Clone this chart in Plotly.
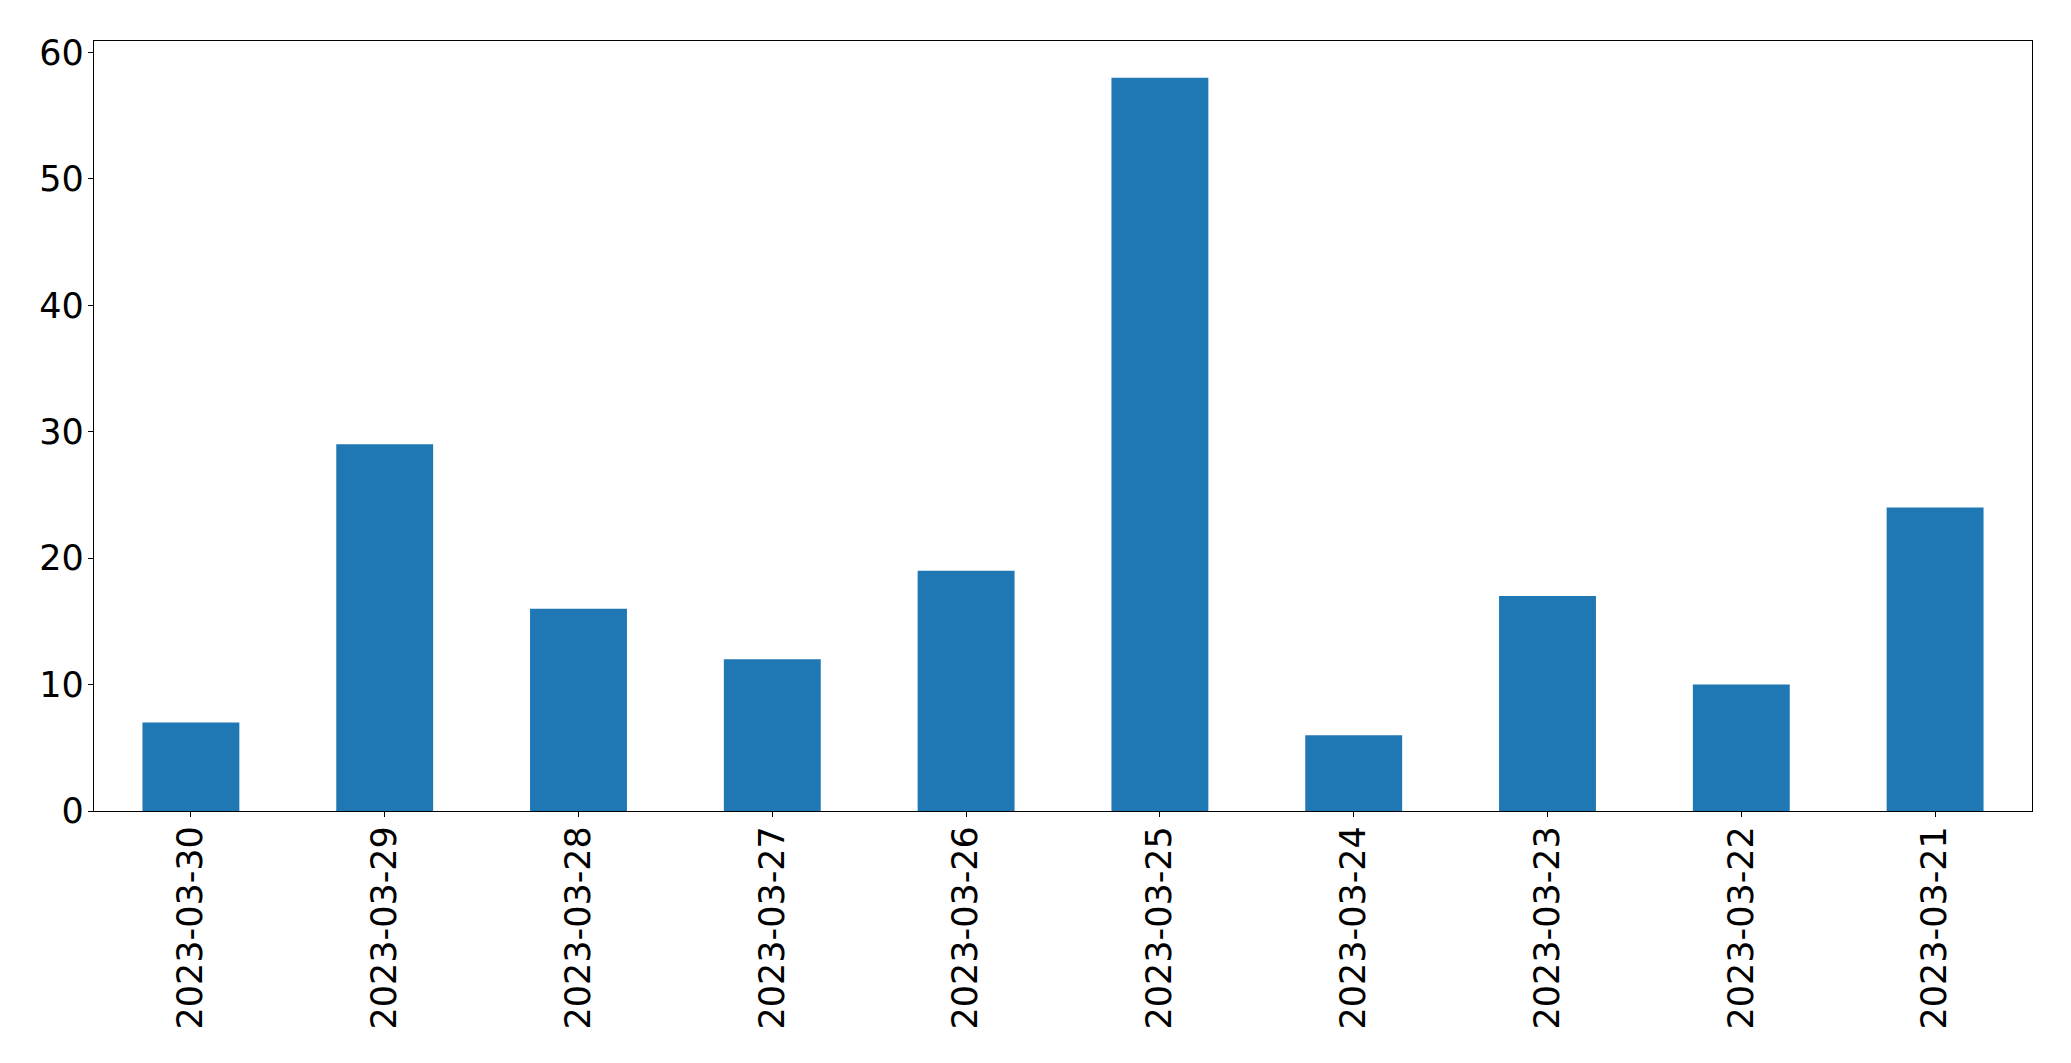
import plotly.graph_objects as go

dates = ["2023-03-30", "2023-03-29", "2023-03-28", "2023-03-27", "2023-03-26",
         "2023-03-25", "2023-03-24", "2023-03-23", "2023-03-22", "2023-03-21"]
counts = [7, 29, 16, 12, 19, 58, 6, 17, 10, 24]

fig = go.Figure(go.Bar(x=dates, y=counts, marker=dict(color="#1f77b4", line=dict(width=0))))

font = dict(family="DejaVu Sans", size=35, color="black")
fig.update_layout(
    width=2063, height=1055,
    margin=dict(l=86, r=39, t=33, b=252),
    plot_bgcolor="white", paper_bgcolor="white",
    bargap=0.5, showlegend=False,
    font=font,
)
fig.update_xaxes(type="category", tickangle=-90, showgrid=False, showline=True, linecolor="black",
                 linewidth=1.3, mirror=True, ticks="outside", ticklen=5, tickcolor="black",
                 tickfont=font, range=[-0.5, 9.5], ticklabelstandoff=-5)
fig.update_yaxes(range=[0, 60.9], dtick=10, showgrid=False, zeroline=False, showline=True,
                 linecolor="black", linewidth=1.3, mirror=True, ticks="outside", ticklen=5,
                 tickcolor="black", tickfont=font, ticklabelstandoff=-3)

fig.write_html("out.html")
